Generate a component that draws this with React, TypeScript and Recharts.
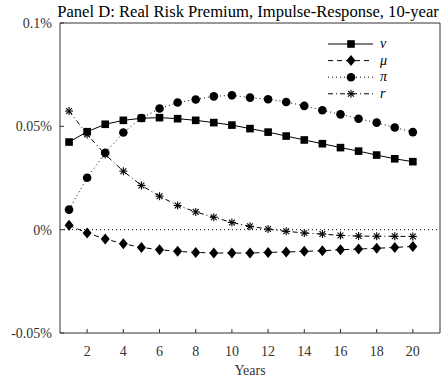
import React from "react";
import { LineChart, Line, XAxis, YAxis, ReferenceLine } from "recharts";

const years = [1, 2, 3, 4, 5, 6, 7, 8, 9, 10, 11, 12, 13, 14, 15, 16, 17, 18, 19, 20];
const vSeries = [0.0424, 0.0474, 0.051, 0.0529, 0.0539, 0.0542, 0.0537, 0.0529, 0.0518, 0.0506, 0.0489, 0.0472, 0.0453, 0.0434, 0.0416, 0.0397, 0.038, 0.0361, 0.0343, 0.0329];
const muSeries = [0.0021, -0.0016, -0.0045, -0.0068, -0.0086, -0.0097, -0.0105, -0.011, -0.0113, -0.0113, -0.0113, -0.011, -0.0108, -0.0105, -0.0102, -0.0097, -0.0094, -0.009, -0.0086, -0.0081];
const piSeries = [0.0097, 0.0251, 0.0372, 0.047, 0.054, 0.0586, 0.0615, 0.063, 0.0645, 0.065, 0.0639, 0.0631, 0.0618, 0.0599, 0.0578, 0.0558, 0.0537, 0.0518, 0.0494, 0.0472];
const rSeries = [0.0574, 0.0461, 0.0364, 0.0283, 0.0214, 0.0162, 0.0117, 0.0086, 0.006, 0.0035, 0.0016, 0.0003, -0.0008, -0.0016, -0.0021, -0.0028, -0.0031, -0.0032, -0.0032, -0.0033];
const xTicks = [2, 4, 6, 8, 10, 12, 14, 16, 18, 20];
const yTicks = [-0.05, 0, 0.05, 0.1];
const yTickLabels = ["-0.05%", "0%", "0.05%", "0.1%"];
const legendLabels = ["v", "μ", "π", "r"];
const title = "Panel D: Real Risk Premium, Impulse-Response, 10-year";
const xLabel = "Years";

const data = years.map((y, i) => ({ year: y, v: vSeries[i], mu: muSeries[i], pi: piSeries[i], r: rSeries[i] }));

const FONT = "'Liberation Serif', 'Times New Roman', serif";

const Square = ({ cx, cy }: any) => (cx == null ? null : <rect x={cx - 3.8} y={cy - 3.8} width={7.6} height={7.6} fill="#000" />);
const Diamond = ({ cx, cy }: any) =>
  cx == null ? null : <polygon points={`${cx},${cy - 5.5} ${cx + 4.5},${cy} ${cx},${cy + 5.5} ${cx - 4.5},${cy}`} fill="#000" />;
const Circle = ({ cx, cy }: any) => (cx == null ? null : <circle cx={cx} cy={cy} r={4.3} fill="#000" />);
const Star = ({ cx, cy }: any) => {
  if (cx == null) return null;
  const s = 4;
  const d = 2.9;
  return (
    <g stroke="#000" strokeWidth={1.1}>
      <line x1={cx - s} y1={cy} x2={cx + s} y2={cy} />
      <line x1={cx} y1={cy - s} x2={cx} y2={cy + s} />
      <line x1={cx - d} y1={cy - d} x2={cx + d} y2={cy + d} />
      <line x1={cx - d} y1={cy + d} x2={cx + d} y2={cy - d} />
    </g>
  );
};

const markers = [Square, Diamond, Circle, Star];
const dashes = [undefined, "5 4", "1 3", "5 3 1 3"];

const LegendBox = () => (
  <svg width={100} height={70} style={{ position: "absolute", left: 320, top: 36 }}>
    {legendLabels.map((lab, i) => {
      const y = 8 + i * 16.6;
      const M = markers[i];
      return (
        <g key={lab}>
          <line x1={8} x2={53} y1={y} y2={y} stroke="#000" strokeWidth={1} strokeDasharray={dashes[i]} />
          <M cx={31} cy={y} />
          <text x={60} y={y + 4} fontFamily={FONT} fontStyle="italic" fontSize={14} fill="#000">
            {lab}
          </text>
        </g>
      );
    })}
  </svg>
);

export default function App() {
  const fmtY = (v: number) => {
    const idx = yTicks.findIndex((t) => Math.abs(t - v) < 1e-9);
    return idx >= 0 ? yTickLabels[idx] : String(v);
  };
  const tickStyle = { fontFamily: FONT, fontSize: 14, fill: "#333" };
  return (
    <div style={{ position: "absolute", left: 0, top: 0, width: 446, height: 381, background: "#fff" }}>
      <div
        style={{
          position: "absolute",
          left: 50,
          width: 396,
          top: 3,
          textAlign: "center",
          fontFamily: FONT,
          fontSize: 16.6,
          lineHeight: "18px",
          color: "#000",
          whiteSpace: "nowrap",
        }}
      >
        {title}
      </div>
      <LineChart width={446} height={381} data={data} margin={{ top: 0, right: 0, bottom: 0, left: 0 }}>
        <XAxis
          dataKey="year"
          type="number"
          domain={[0.5, 21.5]}
          ticks={xTicks}
          height={48}
          tickSize={-4}
          tickMargin={17}
          axisLine={{ stroke: "#333" }}
          tickLine={{ stroke: "#333" }}
          tick={tickStyle}
          allowDataOverflow
          label={{ value: xLabel, position: "insideBottom", offset: 6, style: { fontFamily: FONT, fontSize: 14, fill: "#333" } }}
        />
        <XAxis
          xAxisId="top"
          orientation="top"
          dataKey="year"
          type="number"
          domain={[0.5, 21.5]}
          ticks={xTicks}
          height={23}
          tickSize={-4}
          tick={false}
          axisLine={{ stroke: "#333" }}
          tickLine={{ stroke: "#333" }}
          allowDataOverflow
        />
        <YAxis
          type="number"
          domain={[-0.05, 0.1]}
          ticks={yTicks}
          width={60}
          tickSize={-4}
          tickMargin={12}
          tickFormatter={fmtY}
          axisLine={{ stroke: "#333" }}
          tickLine={{ stroke: "#333" }}
          tick={tickStyle}
          allowDataOverflow
        />
        <YAxis
          yAxisId="right"
          orientation="right"
          type="number"
          domain={[-0.05, 0.1]}
          ticks={yTicks}
          width={6}
          tickSize={-4}
          tick={false}
          axisLine={{ stroke: "#333" }}
          tickLine={{ stroke: "#333" }}
          allowDataOverflow
        />
        <ReferenceLine y={0} stroke="#000" strokeDasharray="1 3" />
        <Line dataKey="v" stroke="#000" strokeWidth={1} dot={<Square />} isAnimationActive={false} />
        <Line dataKey="mu" stroke="#000" strokeWidth={1} strokeDasharray="5 4" dot={<Diamond />} isAnimationActive={false} />
        <Line dataKey="pi" stroke="#000" strokeWidth={1} strokeDasharray="1 3" dot={<Circle />} isAnimationActive={false} />
        <Line dataKey="r" stroke="#000" strokeWidth={1} strokeDasharray="5 3 1 3" dot={<Star />} isAnimationActive={false} />
      </LineChart>
      <LegendBox />
    </div>
  );
}
